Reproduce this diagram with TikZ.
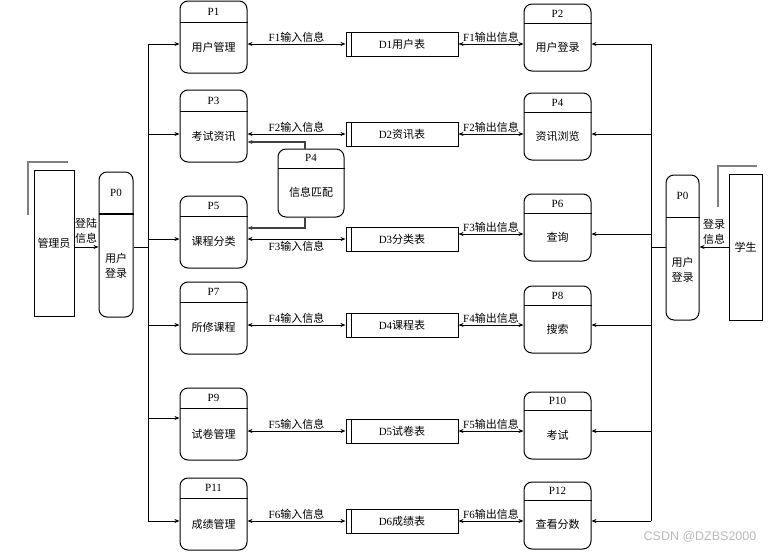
\documentclass[tikz,border=0pt]{standalone}
\usepackage{fontspec}
\setmainfont{Liberation Serif}
\newfontfamily\cjk{Noto Sans CJK SC}
\newfontfamily\marca{Liberation Sans}
\usetikzlibrary{arrows.meta}

\begin{document}
\begin{tikzpicture}[x=1pt, y=-1pt, >={Stealth[length=5pt,width=4pt]}, font=\fontsize{11}{14}\selectfont]
        \tikzstyle{processo}=[draw=black, line width=1pt, rounded corners=8pt, minimum width=67pt, minimum height=72pt, inner sep=0pt]
        \tikzstyle{deposito}=[draw=black, line width=1pt, minimum width=112pt, minimum height=24pt, inner sep=0pt]
        \tikzstyle{entidade}=[draw=black, line width=1pt, minimum width=40pt, minimum height=146pt, inner sep=0pt]
        \tikzstyle{fluxo}=[line width=0.8pt]
        \tikzstyle{rotulo}=[inner sep=1.5pt]
        \tikzstyle{duas}=[align=center, font=\cjk\fontsize{11}{15}\selectfont]

        \useasboundingbox (0,0) rectangle (774,552);

        % entidades externas
        \node[entidade] (adm) at (54,243) {{\cjk 管理员}};
        \node[entidade, minimum width=33pt] (aluno) at (745.5,247) {{\cjk 学生}};
        \draw[gray, line width=1.5pt] (28,215) -- (28,162) -- (68,162);
        \draw[gray, line width=1.5pt] (718,207) -- (718,166) -- (757,166);

        % P0 dos dois lados
        \node[processo, minimum width=34pt, minimum height=145pt] (P0a) at (116,244.5) {};
        \draw[line width=2pt] ([yshift=-42pt]P0a.north west) -- ([yshift=-42pt]P0a.north east);
        \node at (116,193){P0};
        \node[duas] at (116,266){用户\\登录};

        \node[processo, minimum width=33pt, minimum height=145pt] (P0b) at (682.5,247.5) {};
        \draw[line width=1.6pt] ([yshift=-43pt]P0b.north west) -- ([yshift=-43pt]P0b.north east);
        \node at (682.5,196){P0};
        \node[duas] at (682.5,270){用户\\登录};

        % processos da esquerda
        \node[processo] (P1) at (213.5,37) {};
        \node[processo] (P3) at (213.5,126) {};
        \node[processo] (P5) at (213.5,232) {};
        \node[processo] (P7) at (213.5,318) {};
        \node[processo] (P9) at (213.5,424) {};
        \node[processo] (P11) at (213.5,514) {};

        \draw ([yshift=-22pt]P1.north west) -- ([yshift=-22pt]P1.north east);
        \draw ([yshift=-22pt]P3.north west) -- ([yshift=-22pt]P3.north east);
        \draw ([yshift=-21pt]P5.north west) -- ([yshift=-21pt]P5.north east);
        \draw ([yshift=-21pt]P7.north west) -- ([yshift=-21pt]P7.north east);
        \draw ([yshift=-21pt]P9.north west) -- ([yshift=-21pt]P9.north east);
        \draw ([yshift=-21pt]P11.north west) -- ([yshift=-21pt]P11.north east);

        \node at ([yshift=-11pt]P1.north){P1};
        \node at ([yshift=-47pt]P1.north){\cjk 用户管理};
        \node at ([yshift=-11pt]P3.north){P3};
        \node at ([yshift=-47pt]P3.north){\cjk 考试资讯};
        \node at ([yshift=-10pt]P5.north){P5};
        \node at ([yshift=-46pt]P5.north){\cjk 课程分类};
        \node at ([yshift=-10pt]P7.north){P7};
        \node at ([yshift=-46pt]P7.north){\cjk 所修课程};
        \node at ([yshift=-10pt]P9.north){P9};
        \node at ([yshift=-47pt]P9.north){\cjk 试卷管理};
        \node at ([yshift=-10pt]P11.north){P11};
        \node at ([yshift=-47pt]P11.north){\cjk 成绩管理};

        % processos da direita
        \node[processo, minimum height=67pt] (P2) at (557.5,37.5) {};
        \node[processo, minimum height=67pt] (P4) at (557.5,126.5) {};
        \node[processo, minimum height=67pt] (P6) at (557.5,227.5) {};
        \node[processo, minimum height=67pt] (P8) at (557.5,319.5) {};
        \node[processo, minimum height=67pt] (P10) at (557.5,425.5) {};
        \node[processo, minimum height=67pt] (P12) at (557.5,515.5) {};

        \draw ([yshift=-20pt]P2.north west) -- ([yshift=-20pt]P2.north east);
        \draw ([yshift=-20pt]P4.north west) -- ([yshift=-20pt]P4.north east);
        \draw ([yshift=-20pt]P6.north west) -- ([yshift=-20pt]P6.north east);
        \draw ([yshift=-20pt]P8.north west) -- ([yshift=-20pt]P8.north east);
        \draw ([yshift=-19pt]P10.north west) -- ([yshift=-19pt]P10.north east);
        \draw ([yshift=-19pt]P12.north west) -- ([yshift=-19pt]P12.north east);

        \node at ([yshift=-10pt]P2.north){P2};
        \node at ([yshift=-44pt]P2.north){\cjk 用户登录};
        \node at ([yshift=-10pt]P4.north){P4};
        \node at ([yshift=-44pt]P4.north){\cjk 资讯浏览};
        \node at ([yshift=-10pt]P6.north){P6};
        \node at ([yshift=-44pt]P6.north){\cjk 查询};
        \node at ([yshift=-10pt]P8.north){P8};
        \node at ([yshift=-44pt]P8.north){\cjk 搜索};
        \node at ([yshift=-9pt]P10.north){P10};
        \node at ([yshift=-44pt]P10.north){\cjk 考试};
        \node at ([yshift=-9pt]P12.north){P12};
        \node at ([yshift=-43pt]P12.north){\cjk 查看分数};

        % processo do meio
        \node[processo, minimum width=66pt, minimum height=68pt] (P4m) at (311,183) {};
        \draw ([yshift=-20pt]P4m.north west) -- ([yshift=-20pt]P4m.north east);
        \node at ([yshift=-9pt]P4m.north){P4};
        \node at ([yshift=-44pt]P4m.north){\cjk 信息匹配};

        % depositos
        \node[deposito] (D1) at (402,44) {D1{\cjk 用户表}};
        \node[deposito] (D2) at (402,134) {D2{\cjk 资讯表}};
        \node[deposito] (D3) at (402,239) {D3{\cjk 分类表}};
        \node[deposito] (D4) at (402,325) {D4{\cjk 课程表}};
        \node[deposito] (D5) at (402,431) {D5{\cjk 试卷表}};
        \node[deposito] (D6) at (402,521) {D6{\cjk 成绩表}};

        \draw ([xshift=6pt]D1.north west) -- ([xshift=6pt]D1.south west);
        \draw ([xshift=6pt]D2.north west) -- ([xshift=6pt]D2.south west);
        \draw ([xshift=6pt]D3.north west) -- ([xshift=6pt]D3.south west);
        \draw ([xshift=6pt]D4.north west) -- ([xshift=6pt]D4.south west);
        \draw ([xshift=6pt]D5.north west) -- ([xshift=6pt]D5.south west);
        \draw ([xshift=6pt]D6.north west) -- ([xshift=6pt]D6.south west);

        % fluxos com os depositos
        \draw[fluxo, <->] (P1.east |- D1) -- (D1.west) node[midway, above, rotulo]{F1{\cjk 输入信息}};
        \draw[fluxo, <->] (P3.east |- D2) -- (D2.west) node[midway, above, rotulo]{F2{\cjk 输入信息}};
        \draw[fluxo, <->] (P5.east |- D3) -- (D3.west) node[midway, below, rotulo]{F3{\cjk 输入信息}};
        \draw[fluxo, <->] (P7.east |- D4) -- (D4.west) node[midway, above, rotulo]{F4{\cjk 输入信息}};
        \draw[fluxo, <->] (P9.east |- D5) -- (D5.west) node[midway, above, rotulo]{F5{\cjk 输入信息}};
        \draw[fluxo, <->] (P11.east |- D6) -- (D6.west) node[midway, above, rotulo]{F6{\cjk 输入信息}};

        \coordinate (c6) at ([yshift=5pt]D3.east);
        \draw[fluxo, <->] (D1.east) -- (D1.east -| P2.west) node[midway, above, rotulo]{F1{\cjk 输出信息}};
        \draw[fluxo, <->] (D2.east) -- (D2.east -| P4.west) node[midway, above, rotulo]{F2{\cjk 输出信息}};
        \draw[fluxo, <->] (c6) -- (c6 -| P6.west) node[midway, above, rotulo]{F3{\cjk 输出信息}};
        \draw[fluxo, <->] (D4.east) -- (D4.east -| P8.west) node[midway, above, rotulo]{F4{\cjk 输出信息}};
        \draw[fluxo, <->] (D5.east) -- (D5.east -| P10.west) node[midway, above, rotulo]{F5{\cjk 输出信息}};
        \draw[fluxo, <->] (D6.east) -- (D6.east -| P12.west) node[midway, above, rotulo]{F6{\cjk 输出信息}};

        % P4 do meio
        \coordinate (m1) at ([xshift=-6pt]P4m.north);
        \coordinate (m2) at ([xshift=-6pt]P4m.south);
        \draw[fluxo, black!75, line width=1.1pt, ->] (m1) |- ([yshift=-16pt]P3.east);
        \draw[fluxo, black!75, line width=1.1pt, ->] (m2) |- ([yshift=4pt]P5.east);

        % barramento da esquerda
        \coordinate (e) at (148,0);
        \coordinate (a0) at ([yshift=-4pt]adm.east);
        \coordinate (s0) at ([yshift=-2.5pt]P0a.east);
        \coordinate (c9) at ([yshift=6pt]P9.west);
        \draw[fluxo, ->] (a0) -- (a0 -| P0a.west);
        \node[duas] at (86,231){登陆\\信息};
        \draw[fluxo] (s0) -- (s0 -| e);
        \draw[fluxo] (e |- D1) -- (e |- D6);
        \draw[fluxo, ->] (e |- D1) -- (P1.west |- D1);
        \draw[fluxo, ->] (e |- D2) -- (P3.west |- D2);
        \draw[fluxo, ->] (e |- D3) -- (P5.west |- D3);
        \draw[fluxo, ->] (e |- D4) -- (P7.west |- D4);
        \draw[fluxo, ->] (e |- c9) -- (c9);
        \draw[fluxo, ->] (e |- D6) -- (P11.west |- D6);

        % barramento da direita
        \coordinate (d) at (651,0);
        \draw[fluxo, ->] (aluno.west) -- (aluno.west -| P0b.east);
        \node[duas] at (714,232){登录\\信息};
        \draw[fluxo] (P0b.west) -- (P0b.west -| d);
        \draw[fluxo] (d |- D1) -- (d |- D6);
        \draw[fluxo, ->] (d |- D1) -- (P2.east |- D1);
        \draw[fluxo, ->] (d |- D2) -- (P4.east |- D2);
        \draw[fluxo, ->] (d |- c6) -- (P6.east |- c6);
        \draw[fluxo, ->] (d |- D4) -- (P8.east |- D4);
        \draw[fluxo, ->] (d |- D5) -- (P10.east |- D5);
        \draw[fluxo, ->] (d |- D6) -- (P12.east |- D6);

        \node[text=gray!55, font=\marca\fontsize{12.5}{14}\selectfont] at (700,537){CSDN @DZBS2000};
      \end{tikzpicture}
\end{document}
